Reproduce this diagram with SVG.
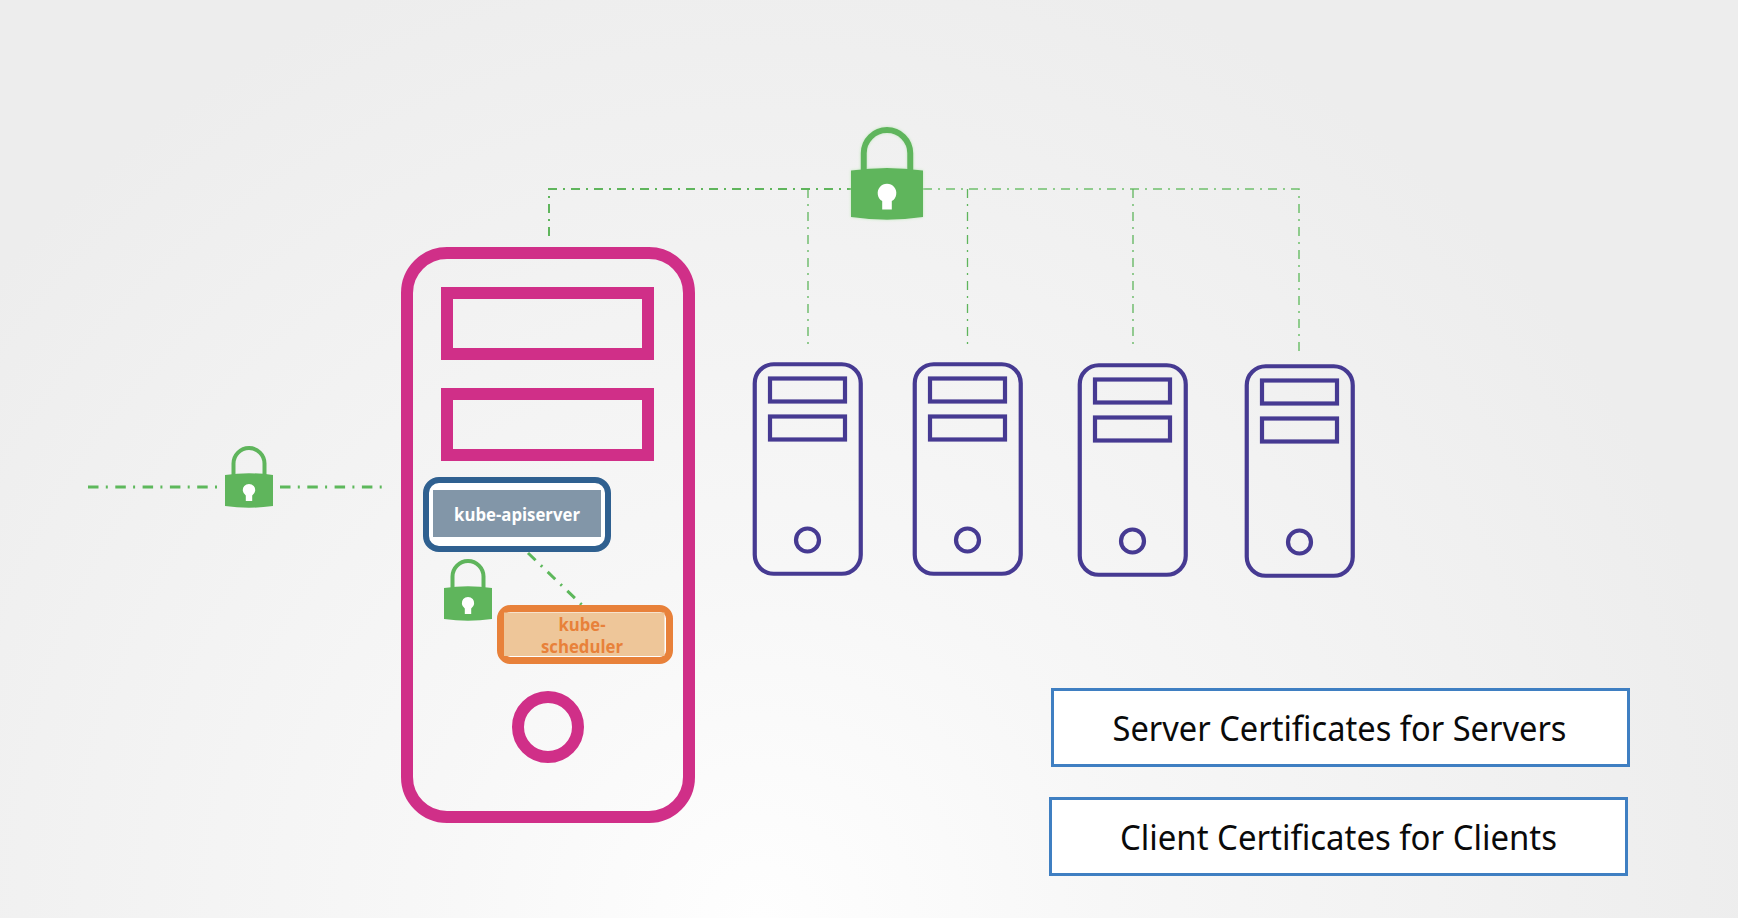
<svg xmlns="http://www.w3.org/2000/svg" width="1738" height="918" viewBox="0 0 1738 918">
<style>
.pink{fill:none;stroke:#d02f88;stroke-width:12}
.srv{fill:none;stroke:#463a92;stroke-width:4.200}
.cert{fill:#fff;stroke:#3f7fc2;stroke-width:3}
.certt{font-family:"Noto Sans","Open Sans",sans-serif;font-size:35px;fill:#0a0a0a;text-anchor:middle}
.lbl{font-family:"Open Sans","Noto Sans",sans-serif;font-weight:700;font-size:18px;text-anchor:middle}
.top{fill:none;stroke:#5fb55c;stroke-width:2;stroke-dasharray:9 6 2 6}
.right{fill:none;stroke:#6fc06c;stroke-width:1.500;stroke-dasharray:9 6 2 6}
.drop{fill:none;stroke:#5fb55c;stroke-width:1.300;stroke-dasharray:9 6 2 6}
.thick{fill:none;stroke:#5db85b;stroke-width:3;stroke-dasharray:10.500 7.300 2 7.500}
</style>
<defs>
<radialGradient id="bg" gradientUnits="userSpaceOnUse" cx="760" cy="918" r="1000">
<stop offset="0" stop-color="#fefefe"/><stop offset="0.35" stop-color="#f7f7f7"/><stop offset="1" stop-color="#ededed"/>
</radialGradient>
<filter id="glow" x="-20%" y="-20%" width="140%" height="140%">
<feDropShadow dx="0" dy="0" stdDeviation="1.800" flood-color="#bfe8bb"/>
</filter>
<g id="lock">
<path d="M-15.500 2V-10.500A15.500 15.500 0 0 1 15.500 -10.500V2" fill="none" stroke="#5fb55c" stroke-width="4"/>
<path d="M-24 1Q0 -2.500 24 1V32Q0 35.500 -24 32Z" fill="#5fb55c"/>
<path d="M-3.200 21.400A6.200 6.200 0 1 1 3.200 21.400V27H-3.200Z" fill="#fff"/>
</g>
<g id="server">
<rect x="2.250" y="2.250" width="106" height="209.500" rx="19" class="srv"/>
<rect x="17.500" y="16.500" width="75" height="23" class="srv"/>
<rect x="17.500" y="54.500" width="75" height="23" class="srv"/>
<circle cx="55" cy="178" r="11.500" class="srv"/>
</g>
</defs>
<rect id="background" width="1738" height="918" fill="url(#bg)"/>
<g id="connectors">
<path class="top" d="M549 236V189H851"/>
<path class="right" d="M923 189H1299V352"/>
<path class="drop" d="M808 189V348"/>
<path class="drop" d="M967.500 189V348"/>
<path class="drop" d="M1133 189V350"/>
<path class="thick" d="M88 487H218"/>
<path class="thick" d="M280 487H384"/>
<path class="thick" d="M528 553L582 605"/>
</g>
<g id="lock-top" filter="url(#glow)"><use href="#lock" transform="translate(887 169) scale(1.5)"/></g>
<g id="lock-left"><use href="#lock" transform="translate(249 474)"/></g>
<g id="lock-inner"><use href="#lock" transform="translate(468 587)"/></g>
<g id="master">
<rect x="407" y="253" width="282" height="564" rx="40" class="pink"/>
<rect x="447" y="293" width="201" height="61" class="pink"/>
<rect x="447" y="394" width="201" height="61" class="pink"/>
<circle cx="548" cy="727" r="30" class="pink"/>
</g>
<g id="kube-apiserver">
<rect x="426" y="480" width="182" height="69" rx="13" fill="#fff" stroke="#2f6090" stroke-width="6"/>
<rect x="433" y="490" width="168" height="47" fill="#8296a8"/>
<text x="517" y="521" class="lbl" fill="#fff" textLength="126" lengthAdjust="spacingAndGlyphs">kube-apiserver</text>
</g>
<g id="kube-scheduler">
<rect x="500.500" y="608.500" width="169" height="52" rx="10" fill="#fff" stroke="#e8813a" stroke-width="7"/>
<rect x="504" y="612.500" width="160.500" height="43.500" fill="#eec699"/>
<text x="582" y="631" class="lbl" fill="#e8813a" textLength="47" lengthAdjust="spacingAndGlyphs">kube-</text>
<text x="582" y="653" class="lbl" fill="#e8813a" textLength="82" lengthAdjust="spacingAndGlyphs">scheduler</text>
</g>
<g id="server-1"><use href="#server" x="752.500" y="362"/></g>
<g id="server-2"><use href="#server" x="912.500" y="362"/></g>
<g id="server-3"><use href="#server" x="1077.500" y="363"/></g>
<g id="server-4"><use href="#server" x="1244.500" y="364"/></g>
<g id="server-certificates">
<rect x="1052.500" y="689.500" width="576" height="76" class="cert"/>
<text x="1339.500" y="741" class="certt" textLength="454" lengthAdjust="spacingAndGlyphs">Server Certificates for Servers</text>
</g>
<g id="client-certificates">
<rect x="1050.500" y="798.500" width="576" height="76" class="cert"/>
<text x="1338.500" y="850" class="certt" textLength="437" lengthAdjust="spacingAndGlyphs">Client Certificates for Clients</text>
</g>
</svg>
